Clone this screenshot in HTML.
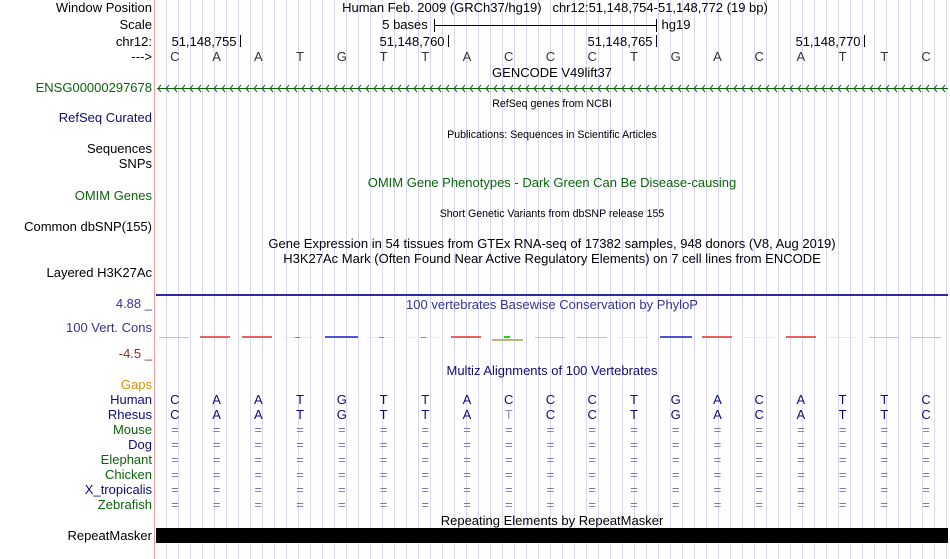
<!DOCTYPE html>
<html><head><meta charset="utf-8"><style>
body{margin:0;width:950px;height:559px;background:#fff;position:relative;overflow:hidden;font-family:"Liberation Sans",sans-serif;font-size:13px;}
#grid{position:absolute;left:155px;top:0;width:795px;height:559px;background:repeating-linear-gradient(to right,transparent 0,transparent 11px,#d8d8f4 11px,#d8d8f4 12px);}
#red{position:absolute;left:154px;top:0;width:1px;height:559px;background:#f4a0a0;}
.l{position:absolute;right:798px;white-space:nowrap;line-height:14px;}
.t{position:absolute;white-space:nowrap;line-height:14px;transform:translateX(-50%);}
.s{font-size:10.6px;}
.row{position:absolute;left:154px;width:793px;display:flex;line-height:14px;}
.row span{flex:1;text-align:center;}
.eq span{color:#7878b0;}
</style></head><body>
<div id="grid"></div><div id="red"></div>
<div class="l" style="top:1px">Window Position</div>
<div class="l" style="top:18px">Scale</div>
<div class="l" style="top:35px">chr12:</div>
<div class="l" style="top:50px">---&gt;</div>
<div class="l" style="top:81px;color:#0a640a">ENSG00000297678</div>
<div class="l" style="top:111px;color:#0c0c78">RefSeq Curated</div>
<div class="l" style="top:142px">Sequences</div>
<div class="l" style="top:157px">SNPs</div>
<div class="l" style="top:189px;color:#0a640a">OMIM Genes</div>
<div class="l" style="top:220px">Common dbSNP(155)</div>
<div class="l" style="top:266px">Layered H3K27Ac</div>
<div class="l" style="top:297px;color:#333399">4.88 _</div>
<div class="l" style="top:321px;color:#333399">100 Vert. Cons</div>
<div class="l" style="top:347px;color:#8a2a2a">-4.5 _</div>
<div class="l" style="top:378px;color:#e88c00">Gaps</div>
<div class="l" style="top:393px;color:#0c0c78">Human</div>
<div class="l" style="top:408px;color:#0c0c78">Rhesus</div>
<div class="l" style="top:423px;color:#0a640a">Mouse</div>
<div class="l" style="top:438px;color:#0c0c78">Dog</div>
<div class="l" style="top:453px;color:#0a640a">Elephant</div>
<div class="l" style="top:468px;color:#0a640a">Chicken</div>
<div class="l" style="top:483px;color:#0c0c78">X_tropicalis</div>
<div class="l" style="top:498px;color:#0a640a">Zebrafish</div>
<div class="l" style="top:529px">RepeatMasker</div>

<div class="t" style="left:555px;top:1px">Human Feb. 2009 (GRCh37/hg19)&nbsp;&nbsp; chr12:51,148,754-51,148,772 (19 bp)</div>
<div class="t" style="left:405px;top:18px">5 bases</div>
<div class="t" style="left:676px;top:18px">hg19</div>
<div class="t" style="left:204px;top:35px">51,148,755</div>
<div class="t" style="left:412px;top:35px">51,148,760</div>
<div class="t" style="left:620px;top:35px">51,148,765</div>
<div class="t" style="left:828px;top:35px">51,148,770</div>
<div class="t" style="left:552px;top:66px">GENCODE V49lift37</div>
<div class="t s" style="left:552px;top:97px">RefSeq genes from NCBI</div>
<div class="t s" style="left:552px;top:128px">Publications: Sequences in Scientific Articles</div>
<div class="t" style="left:552px;top:176px;color:#0a640a">OMIM Gene Phenotypes - Dark Green Can Be Disease-causing</div>
<div class="t s" style="left:552px;top:207px">Short Genetic Variants from dbSNP release 155</div>
<div class="t" style="left:552px;top:237px">Gene Expression in 54 tissues from GTEx RNA-seq of 17382 samples, 948 donors (V8, Aug 2019)</div>
<div class="t" style="left:552px;top:252px">H3K27Ac Mark (Often Found Near Active Regulatory Elements) on 7 cell lines from ENCODE</div>
<div class="t" style="left:552px;top:298px;color:#333399">100 vertebrates Basewise Conservation by PhyloP</div>
<div class="t" style="left:552px;top:364px;color:#0c0c78">Multiz Alignments of 100 Vertebrates</div>
<div class="t" style="left:552px;top:514px">Repeating Elements by RepeatMasker</div>

<svg style="position:absolute;left:0;top:0" width="950" height="559">
<g stroke="#000" stroke-width="1">
<line x1="434" y1="25.5" x2="656" y2="25.5"/><line x1="434.5" y1="19" x2="434.5" y2="32"/><line x1="656.5" y1="19" x2="656.5" y2="32"/>
<line x1="240.5" y1="35" x2="240.5" y2="47"/><line x1="448.5" y1="35" x2="448.5" y2="47"/><line x1="656.5" y1="35" x2="656.5" y2="47"/><line x1="864.5" y1="35" x2="864.5" y2="47"/>
</g>
<line x1="157" y1="88.5" x2="948" y2="88.5" stroke="#0a640a"/>
<path d="M161 85l-3 3.5 3 3.5M169 85l-3 3.5 3 3.5M177 85l-3 3.5 3 3.5M185 85l-3 3.5 3 3.5M193 85l-3 3.5 3 3.5M201 85l-3 3.5 3 3.5M209 85l-3 3.5 3 3.5M217 85l-3 3.5 3 3.5M225 85l-3 3.5 3 3.5M233 85l-3 3.5 3 3.5M241 85l-3 3.5 3 3.5M249 85l-3 3.5 3 3.5M257 85l-3 3.5 3 3.5M265 85l-3 3.5 3 3.5M273 85l-3 3.5 3 3.5M281 85l-3 3.5 3 3.5M289 85l-3 3.5 3 3.5M297 85l-3 3.5 3 3.5M305 85l-3 3.5 3 3.5M313 85l-3 3.5 3 3.5M321 85l-3 3.5 3 3.5M329 85l-3 3.5 3 3.5M337 85l-3 3.5 3 3.5M345 85l-3 3.5 3 3.5M353 85l-3 3.5 3 3.5M361 85l-3 3.5 3 3.5M369 85l-3 3.5 3 3.5M377 85l-3 3.5 3 3.5M385 85l-3 3.5 3 3.5M393 85l-3 3.5 3 3.5M401 85l-3 3.5 3 3.5M409 85l-3 3.5 3 3.5M417 85l-3 3.5 3 3.5M425 85l-3 3.5 3 3.5M433 85l-3 3.5 3 3.5M441 85l-3 3.5 3 3.5M449 85l-3 3.5 3 3.5M457 85l-3 3.5 3 3.5M465 85l-3 3.5 3 3.5M473 85l-3 3.5 3 3.5M481 85l-3 3.5 3 3.5M489 85l-3 3.5 3 3.5M497 85l-3 3.5 3 3.5M505 85l-3 3.5 3 3.5M513 85l-3 3.5 3 3.5M521 85l-3 3.5 3 3.5M529 85l-3 3.5 3 3.5M537 85l-3 3.5 3 3.5M545 85l-3 3.5 3 3.5M553 85l-3 3.5 3 3.5M561 85l-3 3.5 3 3.5M569 85l-3 3.5 3 3.5M577 85l-3 3.5 3 3.5M585 85l-3 3.5 3 3.5M593 85l-3 3.5 3 3.5M601 85l-3 3.5 3 3.5M609 85l-3 3.5 3 3.5M617 85l-3 3.5 3 3.5M625 85l-3 3.5 3 3.5M633 85l-3 3.5 3 3.5M641 85l-3 3.5 3 3.5M649 85l-3 3.5 3 3.5M657 85l-3 3.5 3 3.5M665 85l-3 3.5 3 3.5M673 85l-3 3.5 3 3.5M681 85l-3 3.5 3 3.5M689 85l-3 3.5 3 3.5M697 85l-3 3.5 3 3.5M705 85l-3 3.5 3 3.5M713 85l-3 3.5 3 3.5M721 85l-3 3.5 3 3.5M729 85l-3 3.5 3 3.5M737 85l-3 3.5 3 3.5M745 85l-3 3.5 3 3.5M753 85l-3 3.5 3 3.5M761 85l-3 3.5 3 3.5M769 85l-3 3.5 3 3.5M777 85l-3 3.5 3 3.5M785 85l-3 3.5 3 3.5M793 85l-3 3.5 3 3.5M801 85l-3 3.5 3 3.5M809 85l-3 3.5 3 3.5M817 85l-3 3.5 3 3.5M825 85l-3 3.5 3 3.5M833 85l-3 3.5 3 3.5M841 85l-3 3.5 3 3.5M849 85l-3 3.5 3 3.5M857 85l-3 3.5 3 3.5M865 85l-3 3.5 3 3.5M873 85l-3 3.5 3 3.5M881 85l-3 3.5 3 3.5M889 85l-3 3.5 3 3.5M897 85l-3 3.5 3 3.5M905 85l-3 3.5 3 3.5M913 85l-3 3.5 3 3.5M921 85l-3 3.5 3 3.5M929 85l-3 3.5 3 3.5M937 85l-3 3.5 3 3.5M945 85l-3 3.5 3 3.5" fill="none" stroke="#0a640a"/>
<rect x="156" y="294" width="792" height="2" fill="#2a2aa0"/>
<g>
<rect x="159" y="337" width="30" height="1" fill="#c8c890"/>
<rect x="200" y="336" width="30" height="2" fill="#ee6060"/>
<rect x="242" y="336" width="30" height="2" fill="#ee6060"/>
<rect x="284" y="337" width="28" height="1" fill="#d8f4d8"/>
<rect x="295" y="337" width="5" height="1" fill="#20d020"/>
<rect x="325" y="336" width="33" height="2" fill="#5050d8"/>
<rect x="367" y="337" width="30" height="1" fill="#d8f4d8"/>
<rect x="379" y="337" width="5" height="1" fill="#20d020"/>
<rect x="409" y="337" width="30" height="1" fill="#d8f4d8"/>
<rect x="421" y="337" width="5" height="1" fill="#20d020"/>
<rect x="451" y="336" width="30" height="2" fill="#ee6060"/>
<rect x="492" y="339" width="31" height="2" fill="#b8b870"/>
<rect x="504" y="336" width="6" height="2" fill="#20d020"/>
<rect x="535" y="337" width="30" height="1" fill="#c8c890"/>
<rect x="577" y="337" width="30" height="1" fill="#c8c890"/>
<rect x="618" y="337" width="30" height="1" fill="#d8f4d8"/>
<rect x="660" y="336" width="32" height="2" fill="#5050d8"/>
<rect x="702" y="336" width="30" height="2" fill="#ee6060"/>
<rect x="744" y="337" width="30" height="1" fill="#d8f4d8"/>
<rect x="786" y="336" width="30" height="2" fill="#ee6060"/>
<rect x="827" y="337" width="30" height="1" fill="#d8f4d8"/>
<rect x="869" y="337" width="30" height="1" fill="#c8c890"/>
<rect x="911" y="337" width="30" height="1" fill="#c8c890"/>
</g>
<rect x="156" y="528" width="792" height="15" fill="#000"/>
</svg>

<div class="row" style="top:50px;color:#333"><span>C</span><span>A</span><span>A</span><span>T</span><span>G</span><span>T</span><span>T</span><span>A</span><span>C</span><span>C</span><span>C</span><span>T</span><span>G</span><span>A</span><span>C</span><span>A</span><span>T</span><span>T</span><span>C</span></div>
<div class="row" style="top:393px;color:#0c0c78"><span>C</span><span>A</span><span>A</span><span>T</span><span>G</span><span>T</span><span>T</span><span>A</span><span>C</span><span>C</span><span>C</span><span>T</span><span>G</span><span>A</span><span>C</span><span>A</span><span>T</span><span>T</span><span>C</span></div>
<div class="row" style="top:408px;color:#0c0c78"><span>C</span><span>A</span><span>A</span><span>T</span><span>G</span><span>T</span><span>T</span><span>A</span><span style="color:#9090b8">T</span><span>C</span><span>C</span><span>T</span><span>G</span><span>A</span><span>C</span><span>A</span><span>T</span><span>T</span><span>C</span></div>
<div class="row eq" style="top:423px"><span>=</span><span>=</span><span>=</span><span>=</span><span>=</span><span>=</span><span>=</span><span>=</span><span>=</span><span>=</span><span>=</span><span>=</span><span>=</span><span>=</span><span>=</span><span>=</span><span>=</span><span>=</span><span>=</span></div>
<div class="row eq" style="top:438px"><span>=</span><span>=</span><span>=</span><span>=</span><span>=</span><span>=</span><span>=</span><span>=</span><span>=</span><span>=</span><span>=</span><span>=</span><span>=</span><span>=</span><span>=</span><span>=</span><span>=</span><span>=</span><span>=</span></div>
<div class="row eq" style="top:453px"><span>=</span><span>=</span><span>=</span><span>=</span><span>=</span><span>=</span><span>=</span><span>=</span><span>=</span><span>=</span><span>=</span><span>=</span><span>=</span><span>=</span><span>=</span><span>=</span><span>=</span><span>=</span><span>=</span></div>
<div class="row eq" style="top:468px"><span>=</span><span>=</span><span>=</span><span>=</span><span>=</span><span>=</span><span>=</span><span>=</span><span>=</span><span>=</span><span>=</span><span>=</span><span>=</span><span>=</span><span>=</span><span>=</span><span>=</span><span>=</span><span>=</span></div>
<div class="row eq" style="top:483px"><span>=</span><span>=</span><span>=</span><span>=</span><span>=</span><span>=</span><span>=</span><span>=</span><span>=</span><span>=</span><span>=</span><span>=</span><span>=</span><span>=</span><span>=</span><span>=</span><span>=</span><span>=</span><span>=</span></div>
<div class="row eq" style="top:498px"><span>=</span><span>=</span><span>=</span><span>=</span><span>=</span><span>=</span><span>=</span><span>=</span><span>=</span><span>=</span><span>=</span><span>=</span><span>=</span><span>=</span><span>=</span><span>=</span><span>=</span><span>=</span><span>=</span></div>
</body></html>
